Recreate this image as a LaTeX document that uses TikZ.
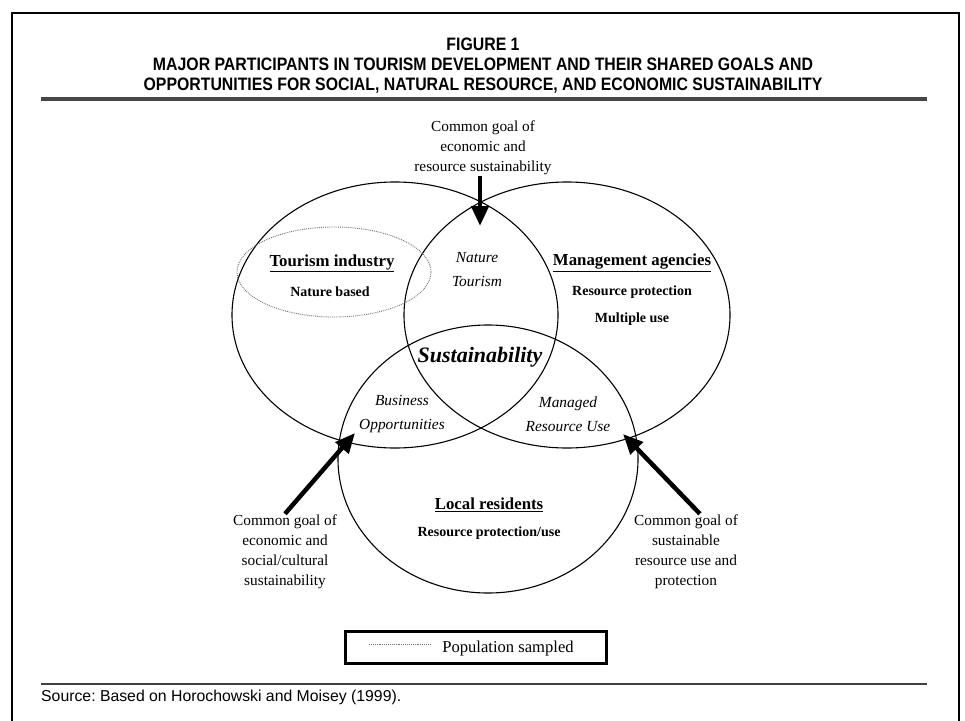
\documentclass[tikz,border=0pt]{standalone}
\usepackage{fontspec}
\setmainfont{Liberation Serif}
\newfontfamily\headfont[FakeStretch=0.88]{Liberation Sans}
\newfontfamily\notefont{Liberation Sans}
\usetikzlibrary{arrows.meta}

\tikzset{
  set/.style={draw,line width=1.1pt},
  sampled/.style={draw=black!55,line width=0.9pt,densely dotted},
  goal/.style={align=center,inner sep=1pt,font=\fontsize{15.3}{20}\selectfont},
  party/.style={font=\bfseries\fontsize{16.8}{18}\selectfont},
  aim/.style={font=\bfseries\fontsize{14}{16}\selectfont},
  overlap/.style={align=center,font=\itshape\fontsize{15.4}{24}\selectfont},
  goalarrow/.style={line width=4.5pt,-{Triangle[length=20pt,width=17pt]}}
}

\begin{document}
\begin{tikzpicture}[x=1pt,y=-1pt]
    \useasboundingbox (0,0) rectangle (965,720);
    \fill[white] (0,0) rectangle (965,720);

    \draw[line width=2.5pt] (12,722) -- (12,13) -- (959,13) -- (959,722);
    \node[align=center,font=\headfont\bfseries\fontsize{18}{20}\selectfont] (title) at (483,66)
        {FIGURE 1\\MAJOR PARTICIPANTS IN TOURISM DEVELOPMENT AND THEIR SHARED GOALS AND\\OPPORTUNITIES FOR SOCIAL, NATURAL RESOURCE, AND ECONOMIC SUSTAINABILITY};
    \draw[line width=4pt,black!72] (41,99) -- (927,99);

    \coordinate (industry) at (395,315);
    \coordinate (agencies) at (567,315);
    \coordinate (residents) at (488,459);
    \draw[set] (industry) ellipse [x radius=163pt,y radius=133pt];
    \draw[set] (agencies) ellipse [x radius=163pt,y radius=133pt];
    \draw[set] (residents) ellipse [x radius=150pt,y radius=134pt];
    \draw[sampled] (334,272) ellipse [x radius=97pt,y radius=45pt];

    \node[party] (tourism) at (332,263) {\underline{Tourism industry}};
    \node[aim] (naturebased) at (330,292) {Nature based};
    \node[party] (management) at (632,263) {\underline{Management agencies}};
    \node[aim] (protection) at (632,292) {Resource protection};
    \node[aim] (multiple) at (632,319) {Multiple use};
    \node[party] (local) at (489,505) {\underline{Local residents}};
    \node[aim] (protectuse) at (489,533) {Resource protection/use};

    \node[overlap] (naturetourism) at (477,270) {Nature\\Tourism};
    \node[overlap] (business) at (402,414) {Business\\Opportunities};
    \node[overlap] (managed) at (568,414) {Managed\\Resource Use};
    \node[font=\bfseries\itshape\fontsize{22}{24}\selectfont] (sustain) at (480,357) {Sustainability};

    \node[goal] (topgoal) at (483,148) {Common goal of\\economic and\\resource sustainability};
    \node[goal] (leftgoal) at (285,552) {Common goal of\\economic and\\social/cultural\\sustainability};
    \node[goal] (rightgoal) at (686,552) {Common goal of\\sustainable\\resource use and\\protection};
    \coordinate (toptip) at (480,226);
    \coordinate (lefttip) at (355,433);
    \coordinate (righttip) at (623,434);
    \draw[goalarrow] (topgoal.south -| toptip) -- (toptip);
    \draw[goalarrow] (leftgoal.north) -- (lefttip);
    \draw[goalarrow] (rightgoal.70) -- (righttip);

    \node[draw,line width=3pt,minimum width=261pt,minimum height=32pt] (key) at (476,647) {};
    \node[font=\fontsize{16.6}{18}\selectfont] (keytext) at (508,648) {Population sampled};
    \draw[sampled] (369,644) -- (431,644);

    \draw[line width=1.6pt,black!75] (41,684) -- (927,684);
    \node[anchor=west,inner sep=0pt,font=\notefont\frenchspacing\fontsize{15.8}{17}\selectfont] (source) at (41,697)
        {Source: Based on Horochowski and Moisey (1999).};
\end{tikzpicture}
\end{document}
